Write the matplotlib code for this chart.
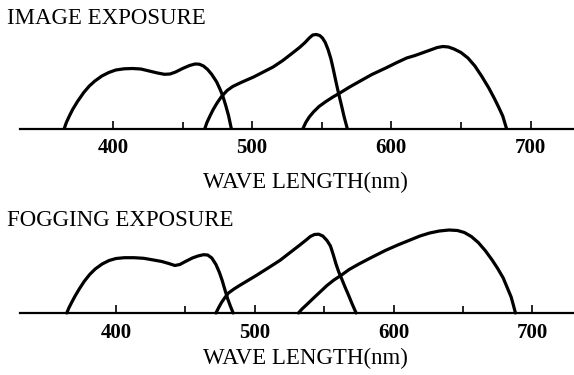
import matplotlib
matplotlib.use("Agg")
import matplotlib.pyplot as plt
from matplotlib.ticker import FixedLocator

plt.rcParams['font.family'] = ['Liberation Serif', 'DejaVu Serif']

# ---------------- data (relative sensitivity, arbitrary units) ----------------
img_b_wl = [365, 366.5, 368.5, 371, 374.5, 379, 383, 387, 392, 397, 402, 408, 414, 420, 426, 432, 437,
            441, 445, 450, 455, 459, 462, 465, 468, 471, 474.5, 477, 479, 481, 483, 485]
img_b_v  = [0, 6, 12, 19, 27, 36, 42.5, 47.5, 52.5, 56, 58.5, 59.7, 60, 59.5, 57.5, 55.5, 54.2,
            54.5, 56.5, 60, 63, 64.5, 64.3, 62.5, 59, 54, 46.5, 39, 32, 23, 13, 0]
img_g_wl = [466, 467.5, 469.5, 472, 475, 478, 482, 486, 492, 501, 508, 515, 522, 529, 534, 538, 541,
            543.5, 546, 548.5, 550.5, 552.5, 554.5, 556.5, 558, 560, 562, 564, 566, 568.3]
img_g_v  = [0, 6, 12, 19, 26, 32, 38, 42, 46, 51.5, 56.5, 61.5, 68, 75.5, 81, 86, 90.5,
            93.5, 94, 93, 90.5, 86, 79, 70, 61, 48, 35.5, 24, 12, 0]
img_r_wl = [536.5, 538.5, 541, 544, 548, 553, 558, 563, 570, 577, 586, 596, 604, 611, 617, 623, 628,
            633, 637, 641, 645, 650, 655, 660, 665, 670, 674, 677, 680, 682.7]
img_r_v  = [0, 6, 11.5, 16.5, 22, 27, 31.5, 35.5, 41.5, 47, 54, 60.5, 66, 70.5, 73, 76, 78.5,
            81, 82, 81.5, 79.5, 76, 70.5, 62.5, 52, 40.5, 30, 21.5, 12.5, 0]

fog_b_wl = [364.5, 366, 368, 370.5, 373.5, 377, 381, 385, 390, 395, 400, 406, 413, 420, 427, 433, 438,
            442.4, 446, 450, 455, 459, 463, 466, 469, 472, 474.5, 476.5, 478.5, 480.5, 482.5, 484.4]
fog_b_v  = [0, 5, 10.5, 17, 24, 31.5, 38.5, 44, 49, 52.5, 54.5, 55.3, 55.3, 54.7, 53, 51.5, 49.5,
            47.5, 48.5, 51.5, 55, 57, 58.3, 58, 55, 48.5, 40.5, 32.5, 23, 14, 6.5, 0]
fog_g_wl = [472, 474, 476, 478.5, 481, 485, 489, 495, 501, 509, 518, 525, 532, 537, 540, 543, 546,
            549, 552, 554.5, 556.5, 558.5, 560.5, 562.5, 565, 567.5, 570, 573]
fog_g_v  = [0, 5.5, 10.5, 15.5, 20, 24, 27.5, 32.5, 37.5, 44.5, 52.5, 60, 67.5, 73, 76.5, 78.5, 78.8,
            77, 72.5, 67, 58.5, 49, 41, 34.5, 26, 18, 9.5, 0]
fog_r_wl = [531.5, 534, 537.5, 542, 547, 552, 557, 562, 568, 575, 584, 594, 603, 611, 619, 626, 633,
            640, 646, 651, 656, 661, 666, 671, 675, 679, 682, 684.7, 686.3, 687.8]
fog_r_v  = [0, 4, 8.5, 14.5, 21, 27.5, 33, 37.5, 43.5, 49, 55.5, 62.5, 68, 72.5, 77, 80, 82,
            83, 82.5, 80.5, 76.5, 70.5, 62.5, 53, 44.5, 35, 25, 16, 8, 0]

major_ticks = [400, 500, 600, 700]
minor_ticks = [450, 550, 650]
tick_labels = ["400", "500", "600", "700"]
titles = ["IMAGE EXPOSURE", "FOGGING EXPOSURE"]
xlabel = "WAVE LENGTH(nm)"

W, H = 574, 375
fig = plt.figure(figsize=(W / 100, H / 100), dpi=100)


def make_axes(baseline_px, xlim, curves, title, title_y, xlabel_y):
    ax = fig.add_axes([20 / W, 1 - baseline_px / H, 554 / W, 100 / H])
    for wl, v in curves:
        ax.plot(wl, v, color='black', lw=2.3, solid_joinstyle='round', solid_capstyle='round', clip_on=False)
    ax.set_xlim(*xlim)
    ax.set_ylim(0, 100)
    for s in ['top', 'left', 'right']:
        ax.spines[s].set_visible(False)
    ax.spines['bottom'].set_linewidth(1.6)
    ax.set_yticks([])
    ax.xaxis.set_major_locator(FixedLocator(major_ticks))
    ax.set_xticklabels(tick_labels, fontweight='bold')
    ax.xaxis.set_minor_locator(FixedLocator(minor_ticks))
    ax.tick_params(axis='x', which='major', direction='in', length=6, width=1.2, pad=7, labelsize=15)
    ax.tick_params(axis='x', which='minor', direction='in', length=5, width=1.2)
    ax.patch.set_visible(False)
    fig.text(7 / W, 1 - title_y / H, title, fontsize=16.5, ha='left', va='center')
    fig.text(305 / W, 1 - xlabel_y / H, xlabel, fontsize=16.5, ha='center', va='center')
    return ax


make_axes(128.5, (333.2, 731.2),
          [(img_b_wl, img_b_v), (img_g_wl, img_g_v), (img_r_wl, img_r_v)],
          titles[0], 19, 182)
make_axes(313, (330.8, 730.0),
          [(fog_b_wl, fog_b_v), (fog_g_wl, fog_g_v), (fog_r_wl, fog_r_v)],
          titles[1], 220, 358)

fig.savefig("out.png", dpi=100)
